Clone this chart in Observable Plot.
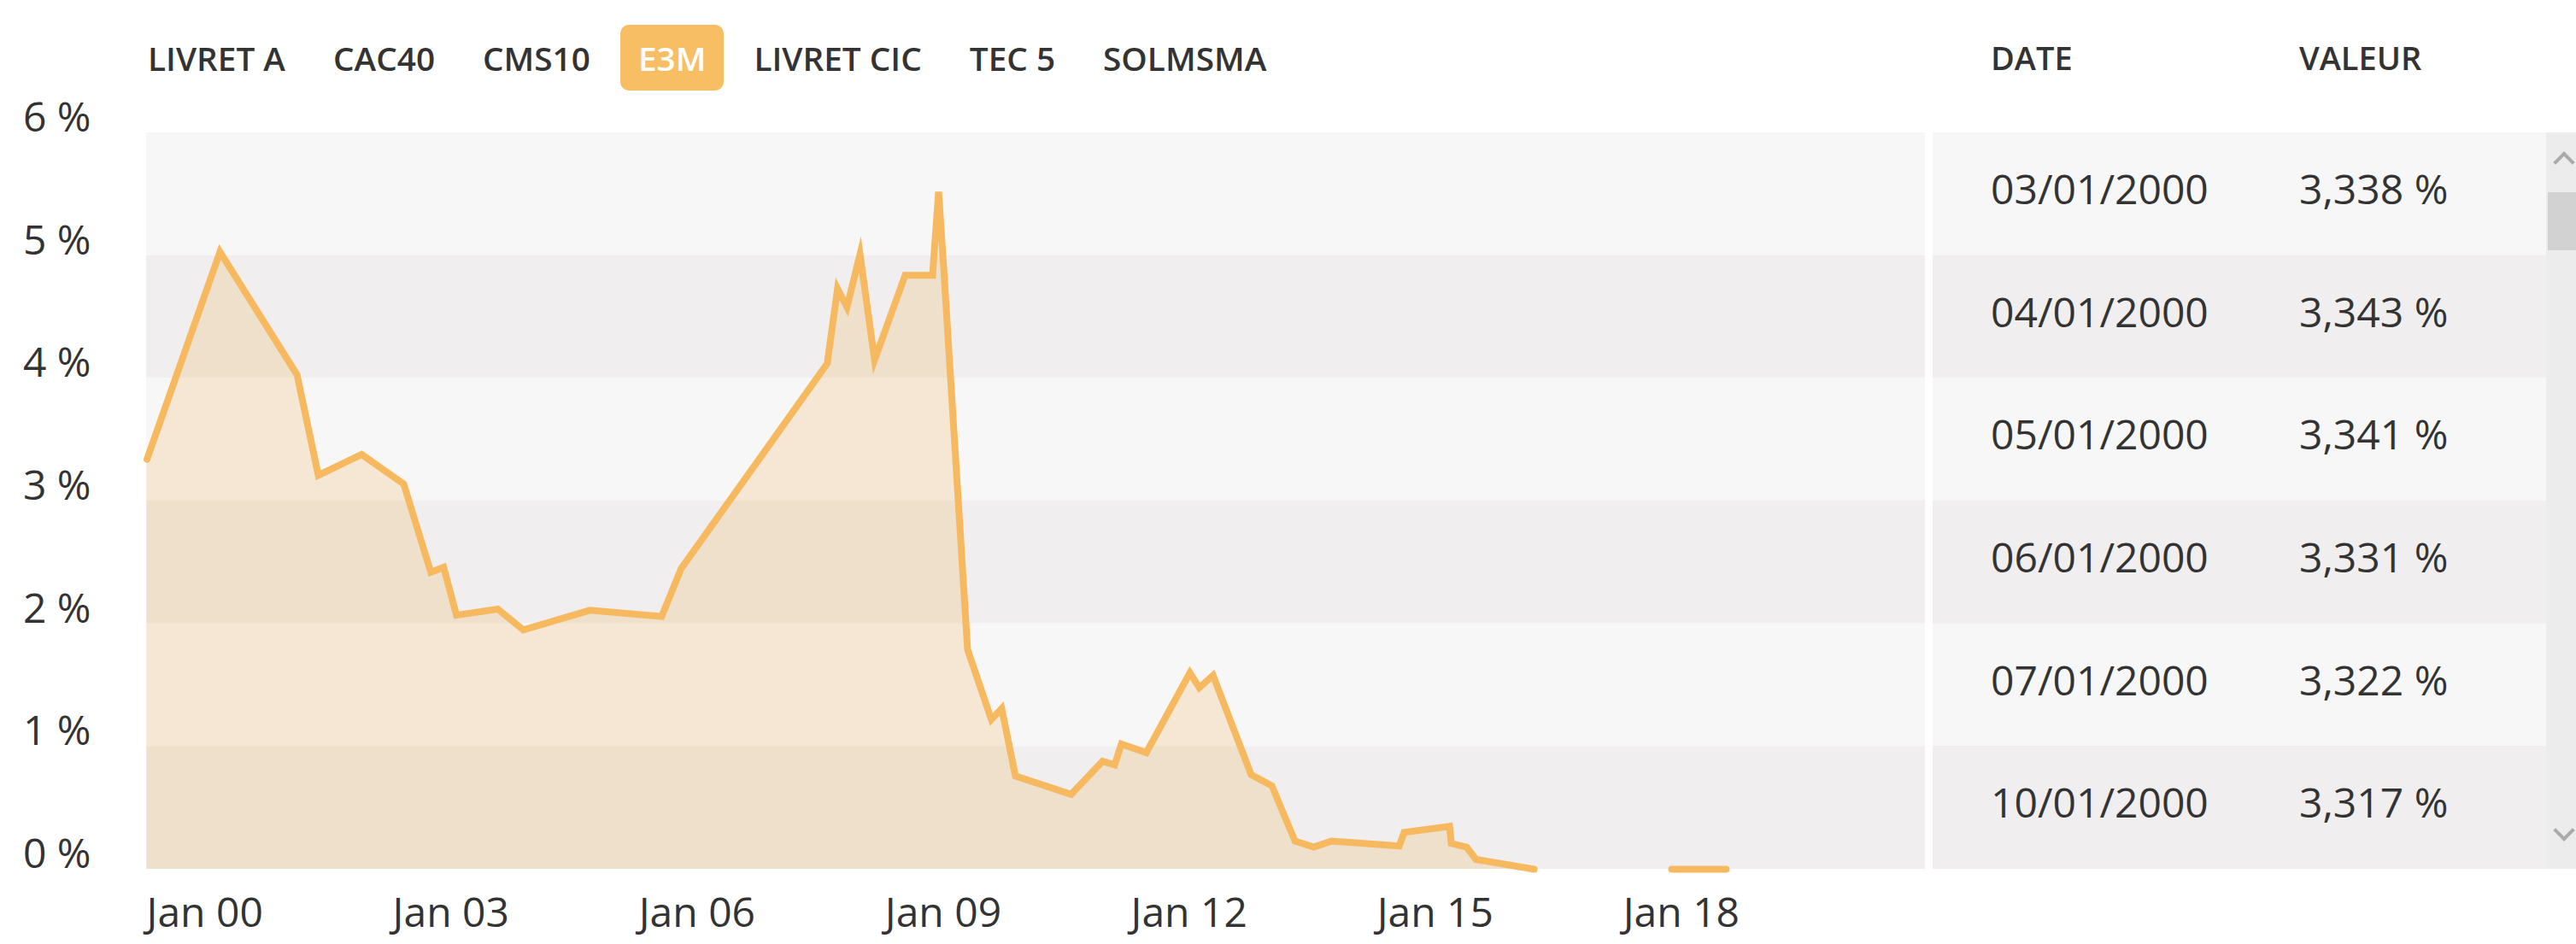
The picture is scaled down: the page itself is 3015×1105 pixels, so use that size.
<!DOCTYPE html>
<html>
<head>
<meta charset="utf-8">
<script src="https://cdn.jsdelivr.net/npm/d3@7"></script>
<script src="https://cdn.jsdelivr.net/npm/@observablehq/plot@0.6"></script>
<style>
  html, body { margin: 0; padding: 0; background: #fff; }
  body { width: 3015px; height: 1105px; position: relative; overflow: hidden;
         font-family: "Open Sans", sans-serif; color: #333; }
  #legend { position: absolute; left: 152px; top: 29px; display: flex; gap: 14px; height: 77px; }
  .btn { padding: 0 21px; height: 77px; line-height: 79px; font-size: 38.75px; font-weight: 600;
         color: #333; border-radius: 10px; white-space: nowrap; }
  .btn.on { background: #f8be64; color: #fff; }
  #chart { position: absolute; left: 0; top: 120px; }
  .hdr { position: absolute; top: 40px; font-size: 38px; font-weight: 600; color: #333; line-height: 54px; }
  #table { position: absolute; left: 2262px; top: 155px; width: 718px; }
  .row { position: relative; height: 143.67px; }
  .row.light { background: #f7f7f7; }
  .row.dark { background: #f0eeee; }
  .row span { position: absolute; top: 0; line-height: 132px; font-size: 48px; color: #333; }
  .row .d { left: 68px; }
  .row .v { left: 429px; }
  #scroll { position: absolute; left: 2980px; top: 155px; width: 35px; height: 862px; background: #ececec; }
  #thumb { position: absolute; left: 2px; top: 70px; width: 33px; height: 68px; background: #d2d2d2; }
  .chev { position: absolute; left: 12px; width: 14px; height: 14px; border-left: 4px solid #aaa; border-top: 4px solid #aaa; }
  .chev.up { top: 26px; transform: rotate(45deg); }
  .chev.down { top: 808px; transform: rotate(225deg); }
</style>
</head>
<body>
<div id="legend"></div>
<div id="chart"></div>
<div class="hdr" style="left:2330px">DATE</div>
<div class="hdr" style="left:2691px">VALEUR</div>
<div id="table"></div>
<div id="scroll"><div class="chev up"></div><div id="thumb"></div><div class="chev down"></div></div>
<script>
// ---- data ----
const series = ["LIVRET A", "CAC40", "CMS10", "E3M", "LIVRET CIC", "TEC 5", "SOLMSMA"];
const activeSeries = "E3M";

const dates = [
  "2000-01-03","2000-11-23","2001-11-01","2002-02-04","2002-08-16","2003-02-19","2003-06-20",
  "2003-08-16","2003-10-12","2004-04-13","2004-08-05","2005-05-28","2006-04-13","2006-07-09",
  "2008-04-19","2008-06-04","2008-07-16","2008-09-12","2008-11-16","2009-04-01","2009-08-01",
  "2009-08-28","2009-09-20","2010-01-04","2010-04-20","2010-06-05","2010-08-05","2011-04-10",
  "2011-08-28","2011-10-21","2011-11-20","2012-03-10","2012-09-20","2012-11-01","2013-01-01",
  "2013-06-20","2013-09-20","2014-01-01","2014-03-25","2014-06-13","2015-04-10","2015-05-02",
  "2015-11-20","2015-11-28","2016-02-04","2016-03-17","2016-12-01","2017-06-01","2018-08-05",
  "2019-04-05"
];
const values = [
  3.34, 5.03, 4.03, 3.21, 3.38, 3.14, 2.42,
  2.46, 2.07, 2.12, 1.95, 2.11, 2.06, 2.45,
  4.12, 4.73, 4.58, 5.01, 4.15, 4.84, 4.84,
  5.52, 4.89, 1.79, 1.22, 1.31, 0.76, 0.61,
  0.88, 0.85, 1.02, 0.95, 1.60, 1.48, 1.58,
  0.77, 0.68, 0.23, 0.18, 0.23, 0.19, 0.30,
  0.35, 0.21, 0.18, 0.08, 0.00, null, 0.00,
  0.00
];

const xDomain = ["2000-01-01", "2021-09-08"];
const xTicks = ["2000-01-01","2003-01-01","2006-01-01","2009-01-01","2012-01-01","2015-01-01","2018-01-01"];
const yTicks = [0, 1, 2, 3, 4, 5, 6];
const bandDark = [0, 2, 4];
const bandLight = [1, 3, 5];

const tableDates = ["03/01/2000","04/01/2000","05/01/2000","06/01/2000","07/01/2000","10/01/2000"];
const tableValues = ["3,338 %","3,343 %","3,341 %","3,331 %","3,322 %","3,317 %"];

// ---- legend ----
const legend = document.getElementById("legend");
series.forEach(s => {
  const b = document.createElement("div");
  b.className = "btn" + (s === activeSeries ? " on" : "");
  b.textContent = s;
  legend.appendChild(b);
});

// ---- table ----
const table = document.getElementById("table");
tableDates.forEach((d, i) => {
  const r = document.createElement("div");
  r.className = "row " + (i % 2 === 0 ? "light" : "dark");
  const a = document.createElement("span"); a.className = "d"; a.textContent = d;
  const b = document.createElement("span"); b.className = "v"; b.textContent = tableValues[i];
  r.appendChild(a); r.appendChild(b);
  table.appendChild(r);
});

// ---- chart ----
const data = dates.map((d, i) => ({date: new Date(d), value: values[i]}));
const x0 = new Date(xDomain[0]), x1 = new Date(xDomain[1]);
const orange = "#f7b95f";

const chart = Plot.plot({
  width: 2258,
  height: 985,
  marginLeft: 171,
  marginRight: 5,
  marginTop: 35,
  marginBottom: 88,
  x: {type: "utc", domain: [x0, x1]},
  y: {domain: [0, 6]},
  style: {fontFamily: "'Open Sans', sans-serif", fontSize: "48px", color: "#333", background: "transparent", overflow: "visible"},
  marks: [
    Plot.rect(bandDark, {x1: () => x0, x2: () => x1, y1: d => d, y2: d => d + 1, fill: "#f0eeee"}),
    Plot.rect(bandLight, {x1: () => x0, x2: () => x1, y1: d => d, y2: d => d + 1, fill: "#f7f7f7"}),
    Plot.areaY(data, {x: "date", y: "value", fill: "#f0b460", fillOpacity: 0.24}),
    Plot.lineY(data, {x: "date", y: "value", stroke: orange, strokeWidth: 8, strokeLinejoin: "miter", strokeMiterlimit: 6}),
    Plot.axisY({ticks: yTicks, tickFormat: d => d + " %", tickSize: 0, tickPadding: 65, dy: -17, fontSize: 48, label: null}),
    Plot.axisX({ticks: xTicks.map(d => new Date(d)), tickFormat: d3.utcFormat("%b %y"), tickSize: 0, tickPadding: 33, textAnchor: "start", fontSize: 48, label: null})
  ]
});
document.getElementById("chart").appendChild(chart);
</script>
</body>
</html>
